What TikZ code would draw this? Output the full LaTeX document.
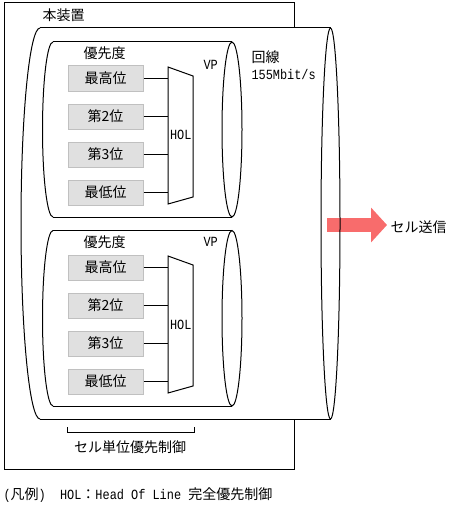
\documentclass[tikz,border=0pt]{standalone}
\usepackage{fontspec}
\setmainfont{Noto Sans CJK JP}
\newfontfamily\cjkfont{Noto Sans CJK JP}
\newfontfamily\lat[FakeStretch=0.85]{Liberation Mono}
\usetikzlibrary{arrows.meta}
\definecolor{boxfill}{RGB}{224,224,224}
\definecolor{boxline}{RGB}{192,192,192}
\definecolor{arrowred}{RGB}{248,108,108}
\newcommand\jp{\cjkfont\fontsize{14}{16}\selectfont}
\newcommand\la{\lat\fontsize{14}{16}\selectfont}
\begin{document}
\begin{tikzpicture}[x=1pt,y=1pt,line width=1pt,
  prio/.style={draw=boxline,fill=boxfill,minimum width=75pt,minimum height=25pt,inner sep=0pt,font=\jp},
  txt/.style={inner sep=0pt,font=\jp},
  mtxt/.style={inner sep=0pt,font=\la},
  wire/.style={draw=black,line width=1pt},
  thick arrow/.style={draw=arrowred,line width=14pt,-{Triangle[length=16pt,width=34pt]}}]
\useasboundingbox (0,0) rectangle (469,-511);
% outer box
\draw (4,-3) rectangle (294,-469);
\node[txt,anchor=west] (dev) at (42,-15) {本装置};
% big pipe
\fill[white] (40,-28) -- (330.5,-28) arc[start angle=90,end angle=-90,x radius=9.5,y radius=195.5]
  -- (40,-419) arc[start angle=270,end angle=90,x radius=19,y radius=195.5] -- cycle;
\node[txt,anchor=west] (send) at (390,-227) {セル送信};
\coordinate (arrowstart) at (327,-225);
\draw[thick arrow] (arrowstart) -- ([xshift=-3pt,yshift=2pt]send.west);
\draw (40,-28) -- (330.5,-28) (40,-419) -- (330.5,-419);
\draw (330.5,-223.5) ellipse[x radius=9.5,y radius=195.5];
\draw (40,-28) arc[start angle=90,end angle=270,x radius=19,y radius=195.5];
\node[txt,anchor=west] (line) at (251,-57) {回線};
\node[mtxt,anchor=west] (rate) at (251,-74) {155Mbit/s};
% inner pipes
\foreach \t/\b in {42/217,230.5/406}{
  \pgfmathsetmacro\ry{(\b-\t)/2}
  \pgfmathsetmacro\cy{-(\b+\t)/2}
  \fill[white] (53,-\t) -- (232,-\t) arc[start angle=90,end angle=-90,x radius=10,y radius=\ry]
    -- (53,-\b) arc[start angle=270,end angle=90,x radius=10.5,y radius=\ry] -- cycle;
  \draw (53,-\t) -- (232,-\t) (53,-\b) -- (232,-\b);
  \draw (232,\cy) ellipse[x radius=10,y radius=\ry];
  \draw (53,-\t) arc[start angle=90,end angle=270,x radius=10.5,y radius=\ry];
}
% labels of upper pipe
\node[txt,anchor=west] (pr1) at (83,-53) {優先度};
\node[mtxt,anchor=west] (vp1) at (203,-65) {VP};
\node[prio] (b11) at (105.5,-78.5) {最高位};
\node[prio] (b12) at (105.5,-116.5) {第2位};
\node[prio] (b13) at (105.5,-154.5) {第3位};
\node[prio] (b14) at (105.5,-192.5) {最低位};
\draw (168,-67) coordinate (h1) -- (193,-76) -- (193,-197) -- (168,-204) -- cycle;
\node[mtxt,anchor=west] (hol1) at (169.5,-135) {HOL};
\foreach \i in {1,...,4}{\draw[wire] (b1\i.east) -- (b1\i.east -| h1);}
% labels of lower pipe
\node[txt,anchor=west] (pr2) at (83,-242) {優先度};
\node[mtxt,anchor=west] (vp2) at (203,-242) {VP};
\node[prio] (b21) at (105.5,-267.5) {最高位};
\node[prio] (b22) at (105.5,-305.5) {第2位};
\node[prio] (b23) at (105.5,-343.5) {第3位};
\node[prio] (b24) at (105.5,-381.5) {最低位};
\draw (168,-256) coordinate (h2) -- (193,-265) -- (193,-386) -- (168,-393) -- cycle;
\node[mtxt,anchor=west] (hol2) at (169.5,-325) {HOL};
\foreach \i in {1,...,4}{\draw[wire] (b2\i.east) -- (b2\i.east -| h2);}
% bracket
\coordinate (brl) at (67.5,-427);
\coordinate (brr) at (194,-427);
\draw (brl) -- ++(0,-5) -| (brr);
\node[txt] (cell) at (130,-447) {セル単位優先制御};
% legend
\node[inner sep=0pt,anchor=west] (legend) at (3,-495)
  {\la(\jp 凡例\la)~~HOL\jp ：\la Head~Of~Line~\jp 完全優先制御};
\end{tikzpicture}
\end{document}
